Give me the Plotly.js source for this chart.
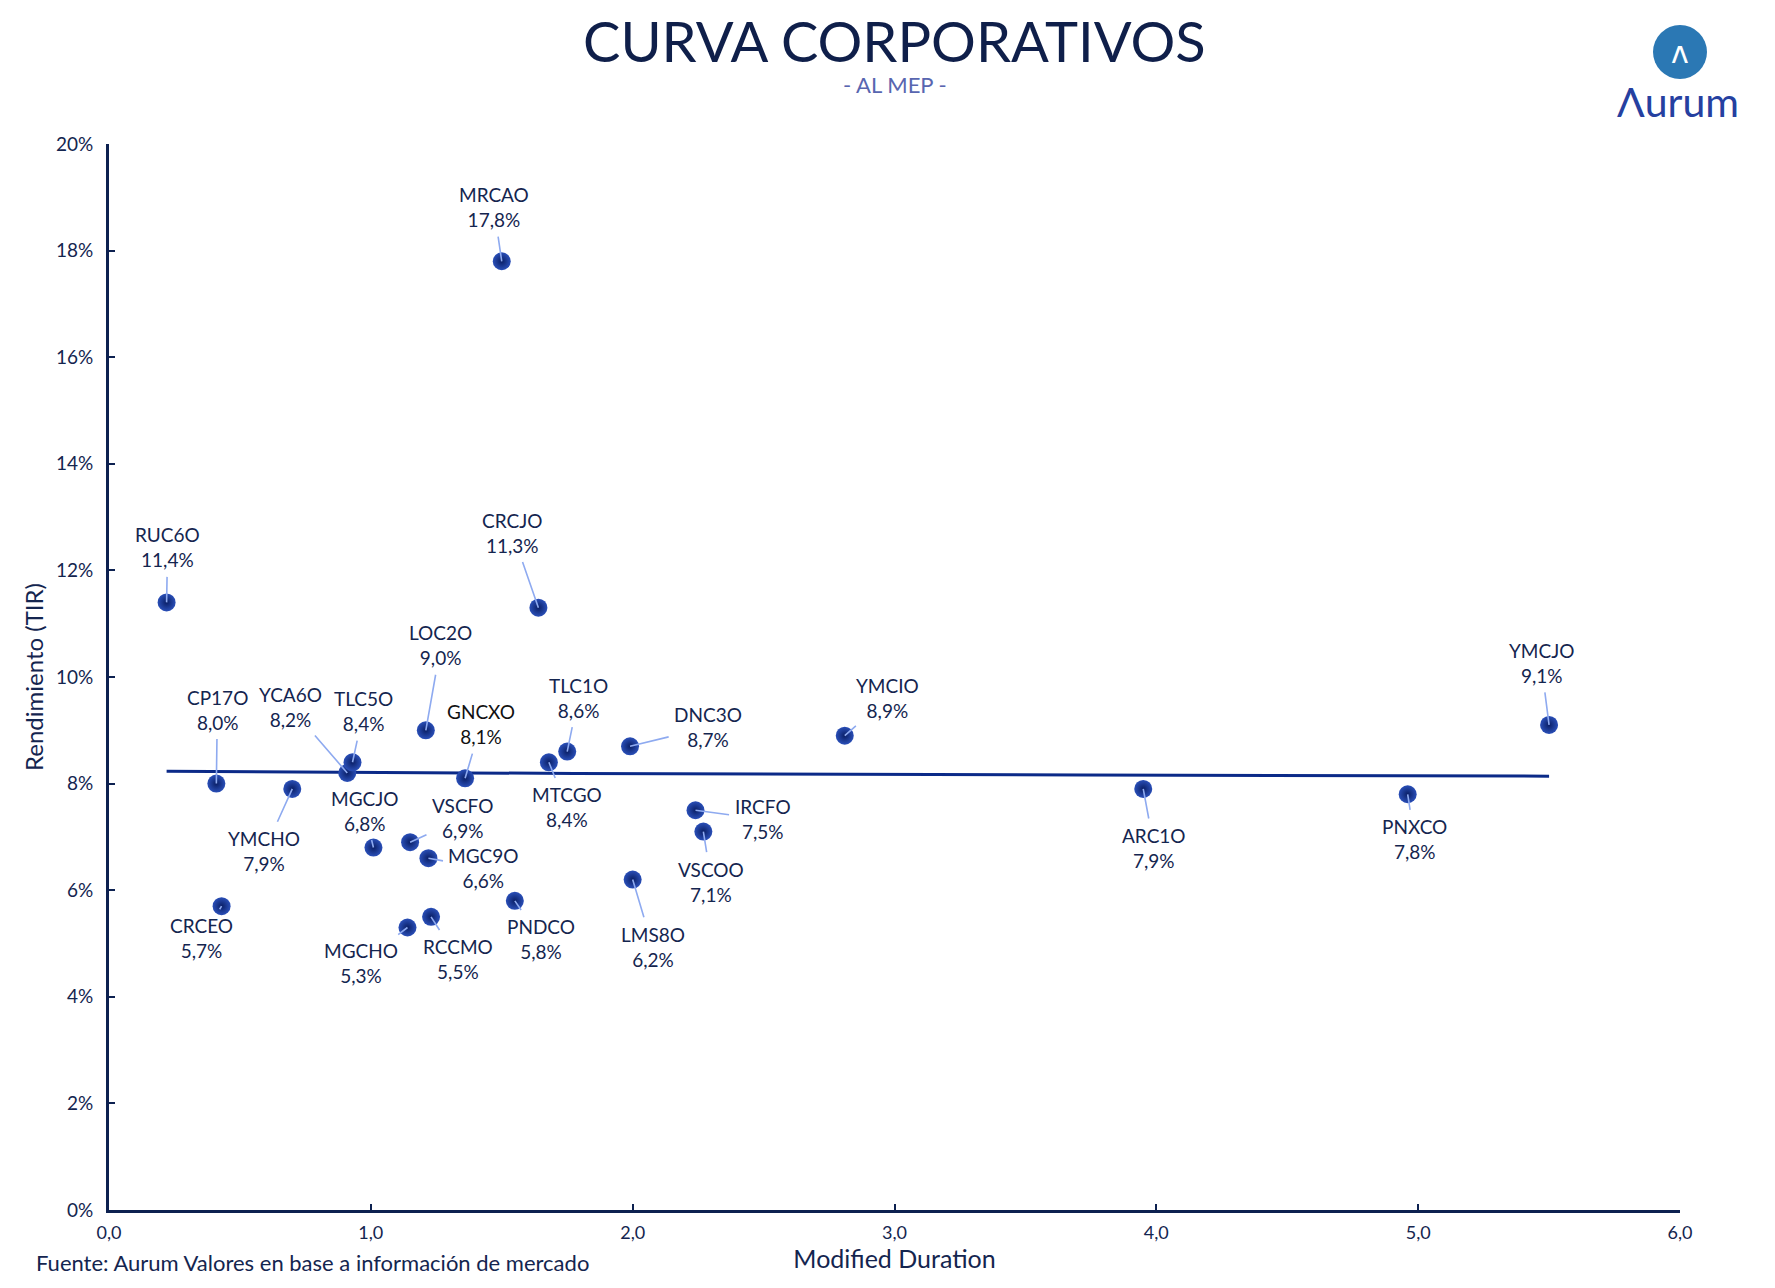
<!DOCTYPE html>
<html>
<head>
<meta charset="utf-8">
<script src="https://cdn.plot.ly/plotly-3.0.1.min.js"></script>
<style>html,body{margin:0;padding:0;background:#fff;}#chart{width:1775px;height:1288px;}</style>
</head>
<body>
<div id="chart"></div>
<script>
// ---- data ----
const tickers = ["RUC6O","CP17O","CRCEO","YMCHO","YCA6O","TLC5O","MGCJO","MGCHO","VSCFO","MGC9O","RCCMO","LOC2O","GNCXO","MRCAO","PNDCO","CRCJO","MTCGO","TLC1O","DNC3O","LMS8O","IRCFO","VSCOO","YMCIO","ARC1O","PNXCO","YMCJO"];
const duration = [0.22,0.41,0.43,0.70,0.91,0.93,1.01,1.14,1.15,1.22,1.23,1.21,1.36,1.50,1.55,1.64,1.68,1.75,1.99,2.00,2.24,2.27,2.81,3.95,4.96,5.50];
const yieldPct = [11.4,8.0,5.7,7.9,8.2,8.4,6.8,5.3,6.9,6.6,5.5,9.0,8.1,17.8,5.8,11.3,8.4,8.6,8.7,6.2,7.5,7.1,8.9,7.9,7.8,9.1];
const trendX = [0.22,0.85,1.78,3.72,5.50];
const trendY = [8.23,8.21,8.19,8.16,8.14];
const xTicks = [0,1,2,3,4,5,6];
const yTicks = [0,2,4,6,8,10,12,14,16,18,20];
const yTickText = yTicks.map(v => v + '%');

// ---- label placement (pixel offsets of label from point) ----
const labelOffsets = {
  RUC6O:[1,-55], CP17O:[1,-74], CRCEO:[-20,32], YMCHO:[-28,62], YCA6O:[-57,-66],
  TLC5O:[11,-51], MGCJO:[-9,-37], MGCHO:[-46,35], VSCFO:[52,-24], MGC9O:[55,10],
  RCCMO:[27,42], LOC2O:[15,-85], GNCXO:[16,-54], MRCAO:[-8,-54], PNDCO:[26,38],
  CRCJO:[-26,-75], MTCGO:[18,45], TLC1O:[11,-54], DNC3O:[78,-19], LMS8O:[20,67],
  IRCFO:[67,9], VSCOO:[8,50], YMCIO:[43,-38], ARC1O:[11,59], PNXCO:[7,45], YMCJO:[-8,-62]
};

const navy = '#14254f';
const fontFam = 'Lato, "Noto Sans", sans-serif';

const annotations = tickers.map((t,i)=>({
  x: duration[i], y: yieldPct[i], xref:'x', yref:'y',
  text: t + '<br>' + yieldPct[i].toFixed(1).replace('.',',') + '%',
  showarrow:true, arrowhead:0, arrowwidth:1.6, arrowcolor:'#8eaaf0',
  ax: labelOffsets[t][0], ay: labelOffsets[t][1], standoff:0, startstandoff:4,
  font:{family:fontFam, size:19, color: t==='GNCXO' ? '#111111' : navy},
  align:'center'
}));

annotations.push(
  {xref:'paper', yref:'paper', x:0.5, y:1, xanchor:'center', yanchor:'bottom', showarrow:false,
   text:'CURVA CORPORATIVOS', font:{family:fontFam, size:56, color:'#0f1f4a'}, yshift:68},
  {xref:'paper', yref:'paper', x:0.5, y:1, xanchor:'center', yanchor:'bottom', showarrow:false,
   text:'- AL MEP -', font:{family:fontFam, size:22, color:'#5866b0'}, yshift:44},
  {xref:'paper', yref:'paper', x:1, y:1, xanchor:'center', yanchor:'middle', showarrow:false,
   text:'ʌ', font:{family:'"DejaVu Sans", sans-serif', size:30, color:'#ffffff'}, xshift:0, yshift:92},
  {xref:'paper', yref:'paper', x:1, y:1, xanchor:'center', yanchor:'middle', showarrow:false,
   text:'Λurum', font:{family:fontFam, size:41, color:'#2540a0'}, xshift:-2, yshift:43},
  {xref:'paper', yref:'paper', x:0, y:0, xanchor:'left', yanchor:'top', showarrow:false,
   text:'Fuente: Aurum Valores en base a información de mercado', font:{family:fontFam, size:22, color:navy},
   xshift:-75, yshift:-37}
);

const data = [
  {x: trendX, y: trendY, mode:'lines', type:'scatter', line:{color:'#0b2a88', width:3}, hoverinfo:'skip'},
  {x: duration, y: yieldPct, mode:'markers', type:'scatter', text: tickers,
   marker:{size:18, color:'#2a4fb8', gradient:{type:'radial', color:'#0a1f66'}, line:{width:0}}}
];

const layout = {
  width:1775, height:1288,
  margin:{l:109, r:95, t:144, b:78},
  paper_bgcolor:'#ffffff', plot_bgcolor:'#ffffff',
  showlegend:false,
  separators:',.',
  xaxis:{range:[0,6], tickvals:xTicks, tickformat:'.1f', showgrid:false, zeroline:false,
    showline:true, linecolor:'#0d2150', linewidth:3, ticks:'inside', ticklen:6, tickwidth:2, tickcolor:'#0d2150',
    ticklabelstandoff:4,
    tickfont:{family:fontFam, size:18, color:navy},
    title:{text:'Modified Duration', font:{family:fontFam, size:25, color:navy}, standoff:8}},
  yaxis:{range:[0,20], tickvals:yTicks, ticktext:yTickText, tickmode:'array', showgrid:false, zeroline:false,
    showline:true, linecolor:'#0d2150', linewidth:3, ticks:'inside', ticklen:6, tickwidth:2, tickcolor:'#0d2150',
    ticklabelstandoff:9,
    tickfont:{family:fontFam, size:19, color:navy},
    title:{text:'Rendimiento (TIR)', font:{family:fontFam, size:24, color:navy}, standoff:6}},
  shapes:[
    {type:'circle', xref:'paper', yref:'paper', xsizemode:'pixel', ysizemode:'pixel',
     xanchor:1, yanchor:1, x0:-27, x1:27, y0:65, y1:119, fillcolor:'#2b78b4', line:{width:0}}
  ],
  annotations: annotations
};

Plotly.newPlot('chart', data, layout, {displayModeBar:false, staticPlot:true});
</script>
</body>
</html>
